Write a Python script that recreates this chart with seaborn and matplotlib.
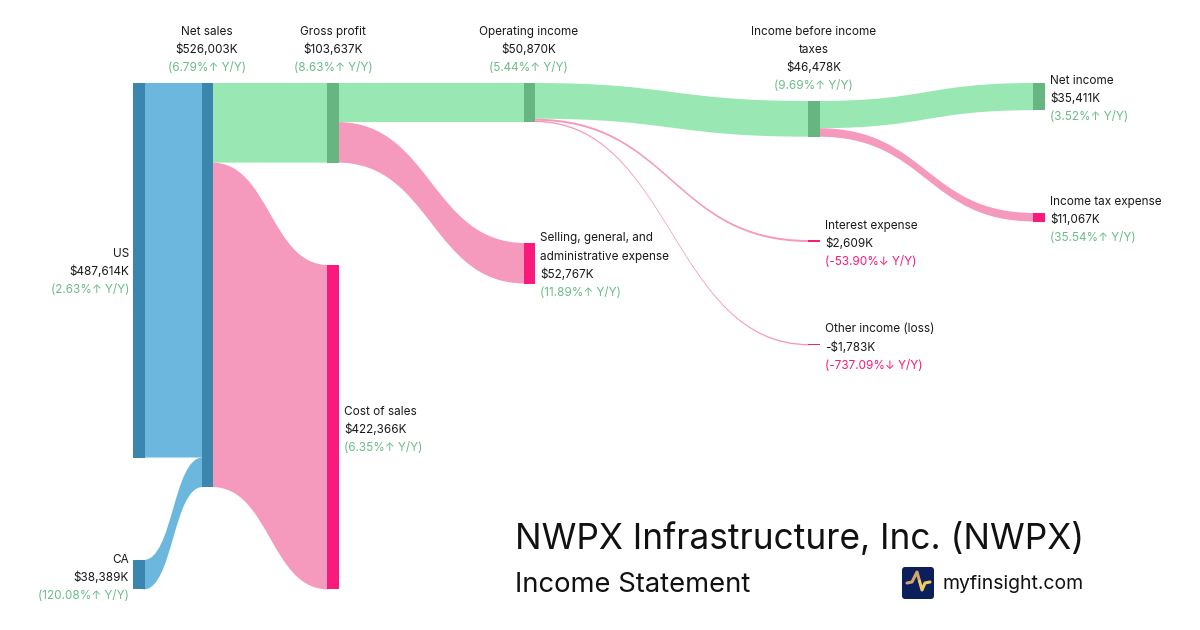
import matplotlib
matplotlib.use("Agg")
import matplotlib.pyplot as plt
import seaborn as sns
from matplotlib.patches import PathPatch, Rectangle, FancyBboxPatch
from matplotlib.path import Path

sns.set_theme(style="white")
plt.rcParams['font.family'] = ['Inter', 'DejaVu Sans']

# ---- data (thousands of USD, magnitudes) ----
node_names = ["US", "CA", "Net sales", "Cost of sales", "Gross profit",
              "Selling, general, and\nadministrative expense", "Operating income",
              "Interest expense", "Other income (loss)",
              "Income before income\ntaxes", "Income tax expense", "Net income"]
node_values = [487614, 38389, 526003, 422366, 103637, 52767, 50870, 2609, 1783, 46478, 11067, 35411]
value_labels = ["$487,614K", "$38,389K", "$526,003K", "$422,366K", "$103,637K", "$52,767K",
                "$50,870K", "$2,609K", "-$1,783K", "$46,478K", "$11,067K", "$35,411K"]
growth_labels = ["(2.63%↑ Y/Y)", "(120.08%↑ Y/Y)", "(6.79%↑ Y/Y)", "(6.35%↑ Y/Y)", "(8.63%↑ Y/Y)",
                 "(11.89%↑ Y/Y)", "(5.44%↑ Y/Y)", "(-53.90%↓ Y/Y)", "(-737.09%↓ Y/Y)",
                 "(9.69%↑ Y/Y)", "(35.54%↑ Y/Y)", "(3.52%↑ Y/Y)"]
growth_up = [True, True, True, True, True, True, True, False, False, True, True, True]
link_sources = ["US", "CA", "Net sales", "Net sales", "Gross profit", "Gross profit",
                "Operating income", "Operating income", "Operating income",
                "Income before income\ntaxes", "Income before income\ntaxes"]
link_targets = ["Net sales", "Net sales", "Gross profit", "Cost of sales", "Operating income",
                "Selling, general, and\nadministrative expense",
                "Income before income\ntaxes", "Interest expense", "Other income (loss)",
                "Net income", "Income tax expense"]
link_values = [487614, 38389, 103637, 422366, 50870, 52767, 46478, 2609, 1783, 35411, 11067]

# ---- layout and style ----
PX_PER_UNIT = 404.0 / 526003
NODE_W = 11.2
node_left = dict(zip(node_names, [133.3, 133.3, 201.7, 327.3, 327.3, 524, 524, 808.4, 808.4, 808.4, 1033.4, 1033.4]))
node_top = dict(zip(node_names, [83, 560, 83, 265, 83, 243, 83, 240, 344, 101, 213, 83]))
BLUE, BLUE_D = "#6BB7DD", "#3A86AE"
GREEN, GREEN_D = "#99E8B3", "#67B682"
PINK, PINK_D = "#F59ABD", "#F91A7C"
UP_C, DOWN_C, INK = "#6CBB88", "#F91A7C", "#1A1A1A"
node_fill = dict(zip(node_names, [BLUE_D, BLUE_D, BLUE_D, PINK_D, GREEN_D, PINK_D, GREEN_D,
                                  PINK_D, PINK_D, GREEN_D, PINK_D, GREEN_D]))
link_fill = [BLUE, BLUE, GREEN, PINK, GREEN, PINK, GREEN, PINK, PINK, GREEN, PINK]
label_pos = {  # x, first line y, alignment
    "US": (129, 254, "right"), "CA": (129, 560, "right"),
    "Net sales": (207, 32, "center"), "Gross profit": (333, 32, "center"),
    "Operating income": (528.5, 32, "center"), "Income before income\ntaxes": (813.5, 32, "center"),
    "Cost of sales": (344, 412, "left"),
    "Selling, general, and\nadministrative expense": (540, 238.5, "left"),
    "Interest expense": (825, 226, "left"), "Other income (loss)": (825, 329.5, "left"),
    "Income tax expense": (1050, 202, "left"), "Net income": (1050, 81, "left"),
}
LINE = 18.1
FS = 11.75 * 0.72

fig = plt.figure(figsize=(12, 6.3), dpi=100, facecolor="white")
ax = fig.add_axes([0, 0, 1, 1])
ax.set_xlim(0, 1200)
ax.set_ylim(630, 0)
ax.axis("off")
sns.despine(ax=ax, left=True, bottom=True)

# links, stacked from values at both ends
out_off = {n: 0.0 for n in node_names}
in_off = {n: 0.0 for n in node_names}
for src, tgt, val, col in zip(link_sources, link_targets, link_values, link_fill):
    h = val * PX_PER_UNIT
    x0 = node_left[src] + NODE_W - 1
    x1 = node_left[tgt] + 1
    y0 = node_top[src] + out_off[src]
    y1 = node_top[tgt] + in_off[tgt]
    out_off[src] += h
    in_off[tgt] += h
    xm = (x0 + x1) / 2
    verts = [(x0, y0), (xm, y0), (xm, y1), (x1, y1),
             (x1, y1 + h), (xm, y1 + h), (xm, y0 + h), (x0, y0 + h), (x0, y0)]
    codes = [Path.MOVETO, Path.CURVE4, Path.CURVE4, Path.CURVE4,
             Path.LINETO, Path.CURVE4, Path.CURVE4, Path.CURVE4, Path.CLOSEPOLY]
    ax.add_patch(PathPatch(Path(verts, codes), facecolor=col, edgecolor="none", zorder=1))

# nodes
for name, val in zip(node_names, node_values):
    ax.add_patch(Rectangle((node_left[name], node_top[name]), NODE_W, val * PX_PER_UNIT,
                           facecolor=node_fill[name], edgecolor="none", zorder=2))

# labels
for name, vlab, glab, up in zip(node_names, value_labels, growth_labels, growth_up):
    x, y, ha = label_pos[name]
    lines = name.split("\n")
    for ln in lines:
        ax.text(x, y, ln, ha=ha, va="center", fontsize=FS, color=INK)
        y += LINE
    ax.text(x, y, vlab, ha=ha, va="center", fontsize=FS, color=INK)
    y += LINE
    ax.text(x, y, glab, ha=ha, va="center", fontsize=FS, color=UP_C if up else DOWN_C)

# title block
ax.text(515, 539, "NWPX Infrastructure, Inc. (NWPX)", fontsize=35.25 * 0.72, color="#111111", va="center", ha="left")
ax.text(515, 585, "Income Statement", fontsize=27.4 * 0.72, color="#111111", va="center", ha="left")
ax.text(943, 584, "myfinsight.com", fontsize=19.4 * 0.72, color="#111111", va="center", ha="left")

# logo
ax.add_patch(FancyBboxPatch((904, 569), 28, 28, boxstyle="round,pad=2,rounding_size=3",
                            facecolor="#0B1F5C", edgecolor="none"))
ax.plot([907, 912, 917, 919.5], [583, 582, 572, 581], color="#D4A46A", lw=2.2, solid_capstyle="round", solid_joinstyle="round")
ax.plot([919.5, 922, 925, 930], [581, 590, 583, 582], color="#F2CB5E", lw=2.2, solid_capstyle="round", solid_joinstyle="round")

fig.savefig("out.png", dpi=100, facecolor="white")
